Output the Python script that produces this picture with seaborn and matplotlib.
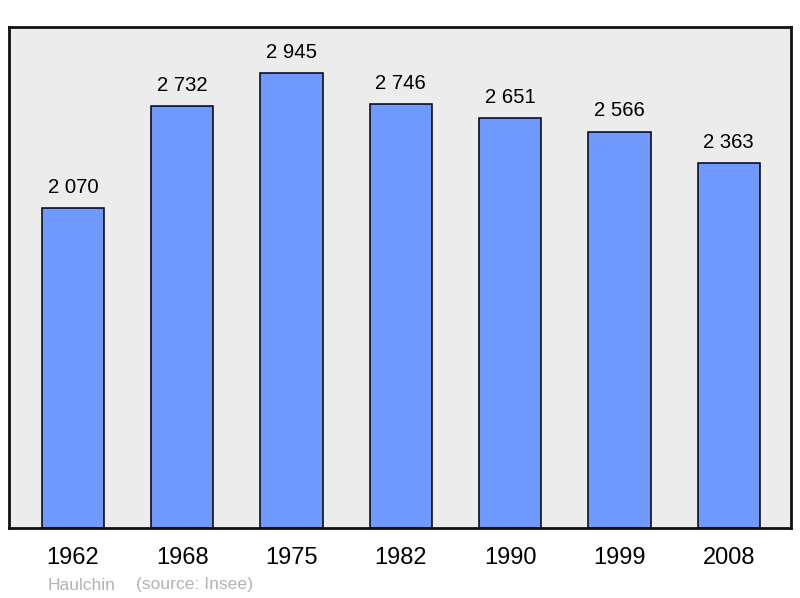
import matplotlib
matplotlib.use("Agg")
import matplotlib.pyplot as plt
import pandas as pd
import seaborn as sns

years = ["1962", "1968", "1975", "1982", "1990", "1999", "2008"]
population = [2070, 2732, 2945, 2746, 2651, 2566, 2363]
place = "Haulchin"
source = "(source: Insee)"

sns.set_theme(style="white")
plt.rcParams["font.family"] = ["Liberation Sans", "DejaVu Sans"]

df = pd.DataFrame({"year": years, "pop": population})

fig = plt.figure(figsize=(8, 5.98), dpi=100)
ax = fig.add_axes([9 / 800, 70 / 598, 782 / 800, 501 / 598])
ax.set_facecolor("#ececec")

sns.barplot(data=df, x="year", y="pop", ax=ax, color="#7099ff", saturation=1,
            width=0.57, edgecolor="black", linewidth=1.1)

for i, v in enumerate(population):
    label = f"{v:,}".replace(",", " ")
    ax.annotate(label, (i, v), textcoords="offset points", xytext=(0, 8),
                ha="center", va="bottom", fontsize=14.6, color="black")

ax.set_xlim(-0.585, 6.57)
ax.set_ylim(0, 3243)
ax.set_yticks([])
ax.set_xlabel("")
ax.set_ylabel("")
ax.tick_params(axis="x", length=0, pad=14, labelsize=17, colors="black")
for s in ax.spines.values():
    s.set_visible(True)
    s.set_color("#111111")
    s.set_linewidth(2)

fig.text(48 / 800, 1 - 585 / 598, place, fontsize=12.6, color="#b3b3b3",
         ha="left", va="center")
fig.text(136 / 800, 1 - 585 / 598, source, fontsize=12.6, color="#b3b3b3",
         ha="left", va="center")

fig.savefig("out.png", dpi=100, facecolor="white")
